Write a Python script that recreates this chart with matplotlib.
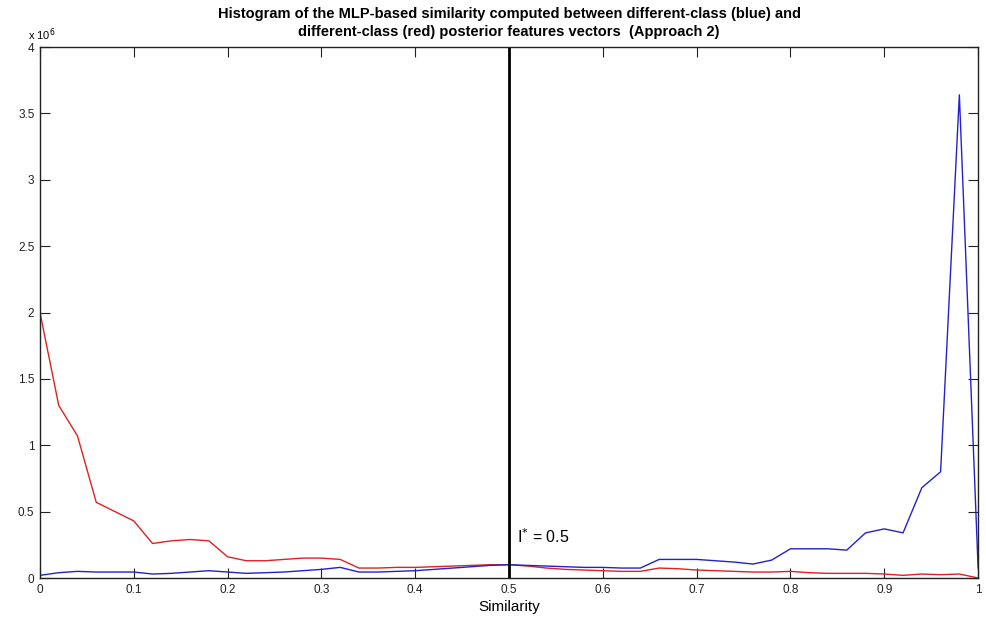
import numpy as np
import matplotlib.pyplot as plt
from matplotlib.ticker import FuncFormatter

plt.rcParams['font.family'] = ['Liberation Sans', 'DejaVu Sans']

# histogram bins (similarity) and counts in millions
similarity = np.round(np.arange(0, 1.0001, 0.02), 2)

red_counts = [2.00, 1.30, 1.07, 0.57, 0.50, 0.43, 0.26, 0.28, 0.29, 0.28,
              0.16, 0.13, 0.13, 0.14, 0.15, 0.15, 0.14, 0.075, 0.075, 0.08,
              0.08, 0.085, 0.09, 0.095, 0.10, 0.10, 0.09, 0.075, 0.065, 0.06,
              0.055, 0.05, 0.05, 0.075, 0.07, 0.06, 0.055, 0.05, 0.045, 0.045,
              0.05, 0.04, 0.035, 0.035, 0.035, 0.03, 0.02, 0.03, 0.025, 0.03,
              0.0]

blue_counts = [0.02, 0.04, 0.05, 0.045, 0.045, 0.045, 0.03, 0.035, 0.045, 0.055,
               0.045, 0.035, 0.04, 0.045, 0.055, 0.065, 0.08, 0.045, 0.045, 0.05,
               0.055, 0.065, 0.075, 0.085, 0.095, 0.10, 0.095, 0.09, 0.085, 0.08,
               0.08, 0.075, 0.075, 0.14, 0.14, 0.14, 0.13, 0.12, 0.105, 0.135,
               0.22, 0.22, 0.22, 0.21, 0.34, 0.37, 0.34, 0.68, 0.80, 3.64,
               0.075]

threshold = 0.5
scale = 1e6

fig = plt.figure(figsize=(9.87, 6.17), dpi=100)
ax = fig.add_axes([0.0405, 0.0632, 0.9505, 0.8606])

ax.plot(similarity, np.array(red_counts) * scale, color='#dd2222', lw=1)
ax.plot(similarity, np.array(blue_counts) * scale, color='#2222cc', lw=1)
ax.axvline(threshold, color='black', lw=2)
ax.text(threshold + 0.008, 0.31 * scale, 'I$^{*}$ = ' + str(threshold), fontsize=11.5,
        va='center', ha='left')

ax.set_xlim(0, 1)
ax.set_ylim(0, 4 * scale)
ax.set_xticks(np.arange(0, 1.01, 0.1))
ax.set_yticks(np.arange(0, 4.01, 0.5) * scale)
ax.xaxis.set_major_formatter(FuncFormatter(lambda v, p: '%g' % round(v, 2)))
ax.yaxis.set_major_formatter(FuncFormatter(lambda v, p: '%g' % (v / scale)))
ax.tick_params(direction='in', length=7, top=True, right=True, labelsize=8.5,
               colors='#222222', pad=4)
for s in ax.spines.values():
    s.set_color('#222222')
    s.set_linewidth(1)

ax.text(-0.013, 1.008, 'x 10$^{6}$', transform=ax.transAxes, fontsize=8, va='bottom')
ax.set_xlabel('Similarity', fontsize=11, labelpad=3)
ax.set_title('Histogram of the MLP-based similarity computed between different-class (blue) and\n'
             'different-class (red) posterior features vectors  (Approach 2)',
             fontsize=10.5, fontweight='bold', pad=8, linespacing=1.35)

fig.savefig('out.png', dpi=100)
